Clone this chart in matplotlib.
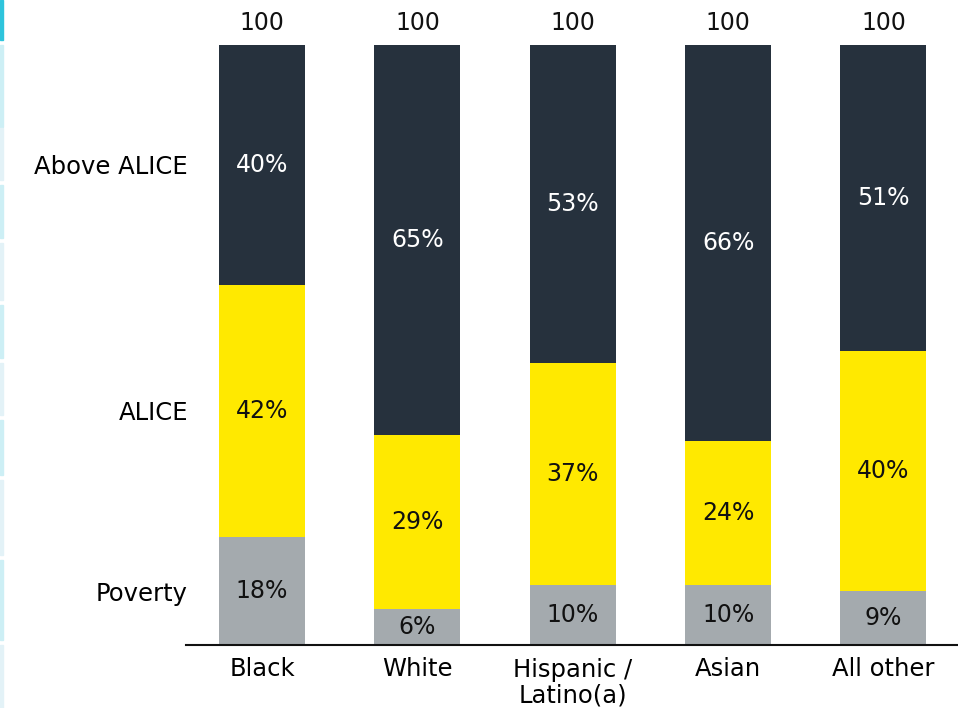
import matplotlib
matplotlib.use("Agg")
import matplotlib.pyplot as plt
from matplotlib.patches import Rectangle

categories = ["Black", "White", "Hispanic /\nLatino(a)", "Asian", "All other"]
poverty = [18, 6, 10, 10, 9]
alice = [42, 29, 37, 24, 40]
above = [40, 65, 53, 66, 51]
totals = [100, 100, 100, 100, 100]
row_labels = ["Poverty", "ALICE", "Above ALICE"]

c_pov = "#A4AAAE"
c_alice = "#FFE900"
c_above = "#26313D"

plt.rcParams['font.family'] = ['DejaVu Sans']
fig = plt.figure(figsize=(9.58, 7.08), dpi=100)
ax = fig.add_axes([186/958, (708-645)/708, 1-186/958, 600/708])

x = list(range(len(categories)))
w = 0.554
ax.bar(x, poverty, width=w, color=c_pov)
ax.bar(x, alice, width=w, bottom=poverty, color=c_alice)
b2 = [p + a for p, a in zip(poverty, alice)]
ax.bar(x, above, width=w, bottom=b2, color=c_above)

fs = 17
for i in x:
    ax.text(i, poverty[i]/2, f"{poverty[i]}%", ha="center", va="center", fontsize=fs, color="#111111")
    ax.text(i, poverty[i] + alice[i]/2, f"{alice[i]}%", ha="center", va="center", fontsize=fs, color="#111111")
    ax.text(i, b2[i] + above[i]/2, f"{above[i]}%", ha="center", va="center", fontsize=fs, color="white")
    ax.text(i, totals[i] + 3.6, f"{totals[i]}", ha="center", va="center", fontsize=fs, color="#111111")

ax.set_xlim(-0.49, 4.48)
ax.set_ylim(0, 100)
ax.set_xticks(x)
ax.set_xticklabels(categories, fontsize=17.5, linespacing=1.1)
ax.tick_params(axis="x", length=0, pad=9)
ypos = [poverty[0]/2, poverty[0] + alice[0]/2, b2[0] + above[0]/2]
ax.set_yticks(ypos)
ax.set_yticklabels(row_labels, fontsize=17.5)
ax.tick_params(axis="y", length=0, pad=-1.5)
for s in ["top", "right", "left"]:
    ax.spines[s].set_visible(False)
ax.spines["bottom"].set_linewidth(1.5)
ax.spines["bottom"].set_color("#111111")

# decorative strip at left edge
fig.patches.append(Rectangle((0, 668/708), 3/958, 40/708, transform=fig.transFigure, color="#2EC4DC"))
segs = [(45, 127), (128, 180), (185, 238), (243, 300), (305, 358), (363, 415), (420, 475), (480, 555), (560, 640), (645, 708)]
for k, (a, b) in enumerate(segs):
    col = "#CDEFF5" if k % 2 == 0 else "#E3F2F7"
    fig.patches.append(Rectangle((0, 1 - b/708), 3/958, (b - a)/708, transform=fig.transFigure, color=col))

fig.savefig("out.png", dpi=100)
